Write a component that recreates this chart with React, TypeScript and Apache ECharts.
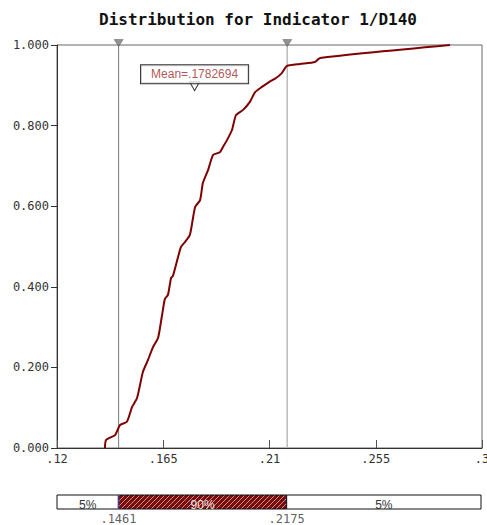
import React, { useEffect, useRef } from 'react';
import * as echarts from 'echarts';

const TITLE = 'Distribution for Indicator 1/D140';

const curveX = [
  0.1403, 0.1408, 0.1446, 0.1467, 0.1496, 0.1518, 0.1539, 0.1564, 0.1585, 0.1607,
  0.1628, 0.1645, 0.1657, 0.167, 0.1683, 0.1691, 0.1725, 0.1742, 0.1763, 0.1785,
  0.1806, 0.1818, 0.184, 0.1861, 0.189, 0.1903, 0.192, 0.1941, 0.1958, 0.1988,
  0.2017, 0.2039, 0.2068, 0.2098, 0.2128, 0.2153, 0.2174, 0.2229, 0.2293, 0.2314,
  0.2864,
];
const curveY = [
  0.0, 0.02, 0.032, 0.057, 0.065, 0.102, 0.124, 0.189, 0.218, 0.251,
  0.273, 0.33, 0.37, 0.38, 0.422, 0.427, 0.499, 0.511, 0.529, 0.598,
  0.615, 0.658, 0.69, 0.727, 0.734, 0.747, 0.764, 0.789, 0.826, 0.839,
  0.859, 0.883, 0.896, 0.908, 0.918, 0.931, 0.948, 0.953, 0.958, 0.968,
  1.0,
];

const xTickValues = [0.12, 0.165, 0.21, 0.255, 0.3];
const xTickLabels = ['.12', '.165', '.21', '.255', '.3'];
const percentileValues = [0.1461, 0.2175];
const percentileLabels = ['.1461', '.2175'];
const percentileLineColors = ['#777', '#bbb'];
const bandEdges = [0.12, 0.1461, 0.2175, 0.3];
const bandLabels = ['5%', '90%', '5%'];
const meanValue = 0.1782694;
const meanLabel = 'Mean=.1782694';
const meanMarkerY = 0.898;

const MONO = 'DejaVu Sans Mono';
const SANS = 'Liberation Sans';

function makeHatch(): HTMLCanvasElement {
  const c = document.createElement('canvas');
  c.width = 5;
  c.height = 5;
  const g = c.getContext('2d');
  if (g) {
    g.fillStyle = '#7a0c0c';
    g.fillRect(0, 0, 5, 5);
    g.strokeStyle = 'rgba(255,255,255,0.55)';
    g.lineWidth = 1;
    g.beginPath();
    g.moveTo(0, 5);
    g.lineTo(5, 0);
    g.moveTo(-1, 1);
    g.lineTo(1, -1);
    g.moveTo(4, 6);
    g.lineTo(6, 4);
    g.stroke();
  }
  return c;
}

export default function App() {
  const ref = useRef<HTMLDivElement>(null);

  useEffect(() => {
    if (!ref.current) return;
    const chart = echarts.init(ref.current, undefined, { renderer: 'svg' });
    const hatch = { image: makeHatch(), repeat: 'repeat' };

    const labelFor = (v: number) => {
      const i = xTickValues.findIndex((t) => Math.abs(t - v) < 1e-9);
      return i >= 0 ? xTickLabels[i] : '';
    };

    const percentileLineSeries = percentileValues.map((v, i) => ({
      type: 'line',
      xAxisIndex: 0,
      yAxisIndex: 0,
      data: [[v, 0], [v, 1]],
      showSymbol: false,
      silent: true,
      lineStyle: { color: percentileLineColors[i], width: i === 0 ? 1 : 1.5 },
      z: 2,
    }));

    const option: any = {
      animation: false,
      backgroundColor: '#fff',
      title: {
        text: TITLE,
        left: 253,
        textAlign: 'center',
        top: 6,
        textStyle: { fontFamily: MONO, fontSize: 16, fontWeight: 'bold', color: '#111' },
      },
      grid: [
        {
          left: 57, right: 5, top: 45, height: 403,
          show: true, borderColor: '#666', borderWidth: 1,
          outerBoundsMode: 'none', containLabel: false,
        },
        { left: 57, right: 6, top: 495, height: 14, outerBoundsMode: 'none', containLabel: false },
      ],
      xAxis: [
        {
          type: 'value',
          gridIndex: 0,
          min: 0.12,
          max: 0.3,
          axisLine: { show: true, lineStyle: { color: '#333', width: 1 } },
          axisTick: {
            show: true,
            inside: true,
            length: 8,
            customValues: xTickValues,
            lineStyle: { color: '#555', width: 1 },
          },
          axisLabel: {
            show: true,
            customValues: xTickValues,
            formatter: (v: number) => labelFor(v),
            fontFamily: MONO,
            fontSize: 12,
            color: '#333',
            margin: 5,
          },
          splitLine: { show: false },
        },
        {
          type: 'value',
          gridIndex: 1,
          min: 0.12,
          max: 0.3,
          show: false,
        },
      ],
      yAxis: [
        {
          type: 'value',
          gridIndex: 0,
          min: 0,
          max: 1,
          interval: 0.2,
          axisLine: { show: true, lineStyle: { color: '#333', width: 1 } },
          axisTick: { show: true, length: 6, lineStyle: { color: '#333' } },
          axisLabel: {
            formatter: (v: number) => v.toFixed(3),
            fontFamily: MONO,
            fontSize: 12,
            color: '#333',
            margin: 8,
          },
          splitLine: { show: false },
        },
        { type: 'value', gridIndex: 1, min: 0, max: 1, show: false },
      ],
      series: [
        ...percentileLineSeries,
        {
          type: 'line',
          xAxisIndex: 0,
          yAxisIndex: 0,
          data: curveX.map((x, i) => [x, curveY[i]]),
          showSymbol: false,
          smooth: 0.2,
          lineStyle: { color: '#7f0000', width: 2 },
          z: 3,
        },
        {
          type: 'scatter',
          xAxisIndex: 0,
          yAxisIndex: 0,
          data: percentileValues.map((v) => [v, 1]),
          symbol: 'triangle',
          symbolRotate: 180,
          symbolSize: [9, 7],
          symbolOffset: [0, -2],
          clip: false,
          itemStyle: { color: '#777', borderColor: '#444', borderWidth: 0.5 },
          z: 5,
        },
        {
          type: 'scatter',
          xAxisIndex: 0,
          yAxisIndex: 0,
          data: [[meanValue, meanMarkerY]],
          symbol: 'triangle',
          symbolRotate: 180,
          symbolSize: [10, 9],
          itemStyle: { color: '#fff', borderColor: '#000', borderWidth: 1 },
          label: {
            show: true,
            position: 'top',
            distance: -2,
            formatter: meanLabel,
            color: '#9a2a2a',
            fontFamily: SANS,
            fontSize: 12,
            lineHeight: 12,
            backgroundColor: '#fff',
            borderColor: '#000',
            borderWidth: 1,
            padding: [3, 10, 3, 10],
          },
          z: 6,
        },
        {
          type: 'custom',
          xAxisIndex: 1,
          yAxisIndex: 1,
          data: bandLabels.map((l, i) => [bandEdges[i], bandEdges[i + 1], i]),
          encode: { x: [0, 1] },
          renderItem: (params: any, api: any) => {
            const lo = api.value(0);
            const hi = api.value(1);
            const idx = api.value(2);
            const p0 = api.coord([lo, 1]);
            const p1 = api.coord([hi, 0]);
            const children: any[] = [
              {
                type: 'rect',
                shape: { x: p0[0], y: p0[1], width: p1[0] - p0[0], height: p1[1] - p0[1] },
                style: { fill: idx === 1 ? hatch : '#fff', stroke: '#111', lineWidth: 1 },
              },
              {
                type: 'text',
                x: (p0[0] + p1[0]) / 2,
                y: p1[1] - 4,
                style: {
                  text: bandLabels[idx],
                  fill: idx === 1 ? '#f4e8e8' : '#333',
                  fontFamily: SANS,
                  fontSize: 12,
                  align: 'center',
                  verticalAlign: 'middle',
                },
              },
            ];
            if (idx === 1) {
              children.push(
                { type: 'line', shape: { x1: p0[0], y1: p0[1], x2: p0[0], y2: p1[1] }, style: { stroke: '#3a3a9a', lineWidth: 1.5 } },
                { type: 'line', shape: { x1: p1[0], y1: p0[1], x2: p1[0], y2: p1[1] }, style: { stroke: '#3a3a9a', lineWidth: 1.5 } }
              );
            }
            return { type: 'group', children };
          },
        },
        {
          type: 'scatter',
          xAxisIndex: 1,
          yAxisIndex: 1,
          data: percentileValues.map((v) => [v, 0]),
          symbolSize: 1,
          itemStyle: { color: 'rgba(0,0,0,0)' },
          label: {
            show: true,
            position: 'bottom',
            distance: 3,
            formatter: (p: any) => percentileLabels[p.dataIndex],
            fontFamily: MONO,
            fontSize: 12,
            color: '#333',
          },
        },
      ],
    };

    chart.setOption(option);
    return () => chart.dispose();
  }, []);

  return (
    <div
      ref={ref}
      style={{ position: 'fixed', left: 0, top: 0, width: 487, height: 525, background: '#fff' }}
    />
  );
}
